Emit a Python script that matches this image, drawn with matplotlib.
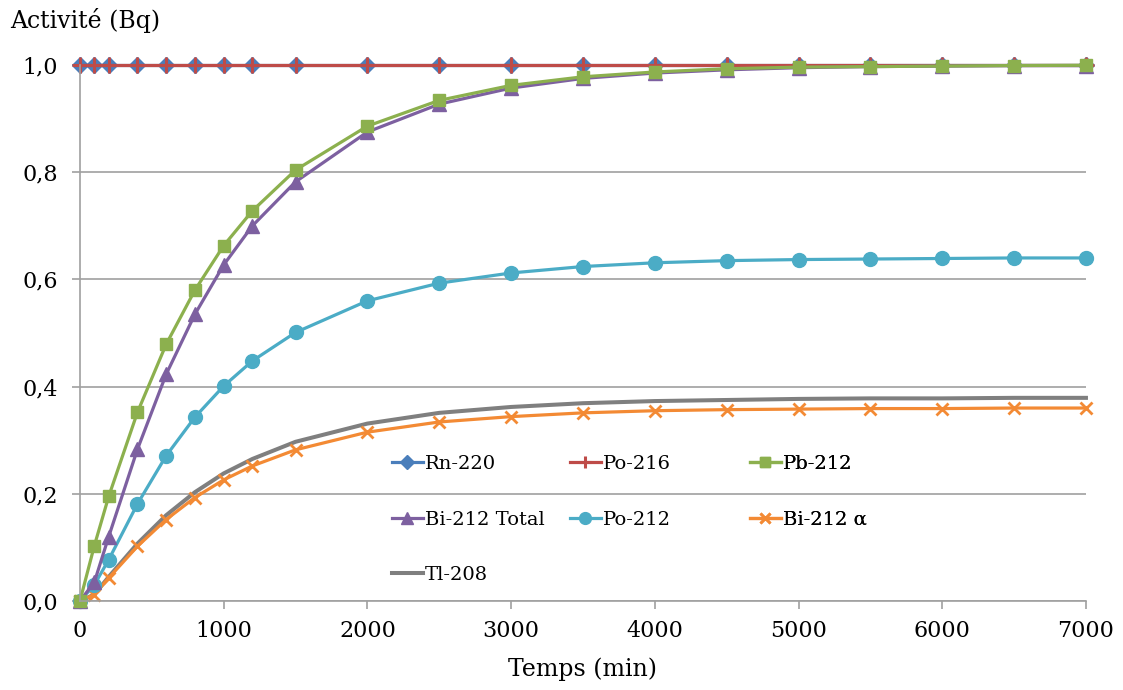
import matplotlib.pyplot as plt

plt.rcParams['font.family'] = ['DejaVu Serif']

# temps (min)
t = [0, 100, 200, 400, 600, 800, 1000, 1200, 1500, 2000, 2500, 3000,
     3500, 4000, 4500, 5000, 5500, 6000, 6500, 7000]

rn220 = [1.0] * len(t)
po216 = [1.0] * len(t)
pb212 = [0.0, 0.103, 0.195, 0.352, 0.479, 0.580, 0.663, 0.728, 0.804, 0.886,
         0.934, 0.962, 0.978, 0.987, 0.993, 0.996, 0.997, 0.998, 0.999, 0.9995]
bi212_tot = [0.0, 0.035, 0.120, 0.283, 0.423, 0.535, 0.627, 0.700, 0.782, 0.875,
             0.927, 0.957, 0.975, 0.985, 0.991, 0.995, 0.997, 0.998, 0.999, 0.999]
po212 = [0.0, 0.030, 0.077, 0.181, 0.271, 0.343, 0.401, 0.448, 0.501, 0.560,
         0.593, 0.612, 0.624, 0.631, 0.635, 0.637, 0.638, 0.639, 0.640, 0.640]
bi212_a = [0.0, 0.012, 0.043, 0.102, 0.152, 0.193, 0.226, 0.252, 0.282, 0.315,
           0.334, 0.344, 0.351, 0.355, 0.357, 0.358, 0.359, 0.359, 0.360, 0.360]
tl208 = [0.0, 0.012, 0.045, 0.107, 0.160, 0.203, 0.238, 0.265, 0.297, 0.331,
         0.351, 0.362, 0.369, 0.373, 0.375, 0.377, 0.378, 0.378, 0.379, 0.379]

fig = plt.figure(figsize=(11.23, 6.90), dpi=100)
ax = fig.add_axes([0.0712, 0.129, 0.8958, 0.7768])

lw = 2.3
h_rn, = ax.plot(t, rn220, color='#4A7EBB', lw=lw, marker='D', ms=8, clip_on=False, label='Rn-220')
h_po216, = ax.plot(t, po216, color='#BE4B48', lw=lw, marker='+', ms=11, mew=2.2, clip_on=False, label='Po-216')
h_tl, = ax.plot(t, tl208, color='#7F7F7F', lw=lw + 0.6, clip_on=False, label='Tl-208')
h_bia, = ax.plot(t, bi212_a, color='#F38A34', lw=lw, marker='x', ms=9, mew=2, clip_on=False, label='Bi-212 α')
h_po212, = ax.plot(t, po212, color='#4BACC6', lw=lw, marker='o', ms=10, clip_on=False, label='Po-212')
h_bi, = ax.plot(t, bi212_tot, color='#7D60A0', lw=lw, marker='^', ms=10, clip_on=False, label='Bi-212 Total')
h_pb, = ax.plot(t, pb212, color='#8CB04E', lw=lw, marker='s', ms=9, clip_on=False, label='Pb-212')

ax.set_xlim(0, 7000)
ax.set_ylim(0, 1.0)
ax.set_xticks(range(0, 7001, 1000))
ax.set_yticks([0, 0.2, 0.4, 0.6, 0.8, 1.0])
ax.set_yticklabels(['0,0', '0,2', '0,4', '0,6', '0,8', '1,0'])
ax.tick_params(axis='both', labelsize=16, color='#A0A0A0', length=6, width=1.2)
ax.tick_params(axis='y', pad=10)
ax.tick_params(axis='x', pad=8)
ax.grid(axis='y', color='#A0A0A0', lw=1.2)
ax.set_axisbelow(True)
for s in ['top', 'right']:
    ax.spines[s].set_visible(False)
for s in ['left', 'bottom']:
    ax.spines[s].set_color('#A0A0A0')
    ax.spines[s].set_linewidth(1.2)

ax.set_xlabel('Temps (min)', fontsize=17, labelpad=11)
fig.text(0.009, 0.971, 'Activité (Bq)', fontsize=17, va='center', ha='left')

# legend, three equal columns like Excel
cols = [([h_rn, h_bi, h_tl], 0.310), ([h_po216, h_po212], 0.487), ([h_pb, h_bia], 0.666)]
for handles, x0 in cols:
    leg = ax.legend(handles=handles, loc='upper left', bbox_to_anchor=(x0, 0.272),
                    frameon=False, fontsize=14, handlelength=1.6, handletextpad=0.1,
                    labelspacing=1.93, borderaxespad=0, borderpad=0, markerscale=0.85)
    ax.add_artist(leg)

fig.savefig('out.png', dpi=100)
